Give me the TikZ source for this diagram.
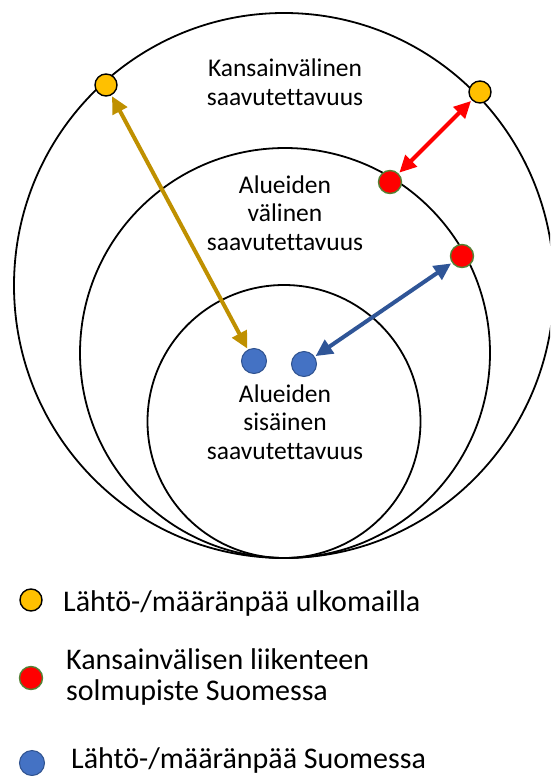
\documentclass[tikz,border=0pt]{standalone}
\usepackage{fontspec}
\setmainfont{Carlito}[Ligatures=NoCommon]
\usetikzlibrary{arrows.meta}
\definecolor{goldline}{HTML}{BF9000}
\definecolor{dotyellow}{HTML}{FFC000}
\definecolor{dotblue}{HTML}{4472C4}
\definecolor{blueedge}{HTML}{2F528F}
\definecolor{bluearrow}{HTML}{2F5597}
\definecolor{rededge}{HTML}{548235}
\tikzset{
  ring/.style={draw=black, line width=1.8pt},
  ydot/.style={circle, draw=black, line width=1.4pt, fill=dotyellow, minimum size=22pt, inner sep=0pt},
  rdot/.style={circle, draw=rededge, line width=1.4pt, fill=red, minimum size=23pt, inner sep=0pt},
  bdot/.style={circle, draw=blueedge, line width=1pt, fill=dotblue, minimum size=25pt, inner sep=0pt},
  link/.style={line width=4pt, {Triangle[length=17pt,width=16pt]}-{Triangle[length=17pt,width=16pt]}, shorten <=1pt, shorten >=1pt},
  label/.style={align=center, font=\fontsize{25.5}{28.5}\selectfont, inner sep=0pt},
  legend/.style={anchor=west, align=left, font=\fontsize{30}{31}\selectfont, inner sep=0pt}
}
\begin{document}
\begin{tikzpicture}[x=1pt, y=-1pt]
  \useasboundingbox (0,0) rectangle (550,776);
  \begin{scope}
    \clip (0,0) rectangle (550,776);
    % accessibility levels
    \draw[ring] (284,285.5) ellipse [x radius=270, y radius=272.5];
    \draw[ring] (285,353) circle [radius=205];
    \draw[ring] (284,421.5) circle [radius=136.5];
  \end{scope}

  \node[label] (tint) at (285,82) {Kansainvälinen\\saavutettavuus};
  \node[label] (tmid) at (285,213) {Alueiden\\välinen\\saavutettavuus};
  \node[label] (tin)  at (285,422) {Alueiden\\sisäinen\\saavutettavuus};

  % points
  \node[ydot] (y1) at (106,85) {};
  \node[ydot] (y2) at (480,92) {};
  \node[rdot] (r1) at (390,182) {};
  \node[rdot] (r2) at (462,256) {};
  \node[bdot] (b1) at (254,361) {};
  \node[bdot] (b2) at (304,364) {};

  % connections
  \draw[link, draw=goldline, fill=goldline] (y1) -- (b1);
  \draw[link, draw=red, fill=red] (r1) -- (y2);
  \draw[link, draw=bluearrow, fill=bluearrow] (b2) -- (r2);

  % legend
  \node[ydot] (ly) at (31,600) {};
  \node[legend] (lty) at (63,603) {Lähtö-/määränpää ulkomailla};
  \node[rdot] (lr) at (31,678) {};
  \node[legend] (ltr) at (66,677) {Kansainvälisen liikenteen\\solmupiste Suomessa};
  \node[bdot] (lb) at (32,763) {};
  \node[legend] (ltb) at (71,760) {Lähtö-/määränpää Suomessa};
\end{tikzpicture}
\end{document}
